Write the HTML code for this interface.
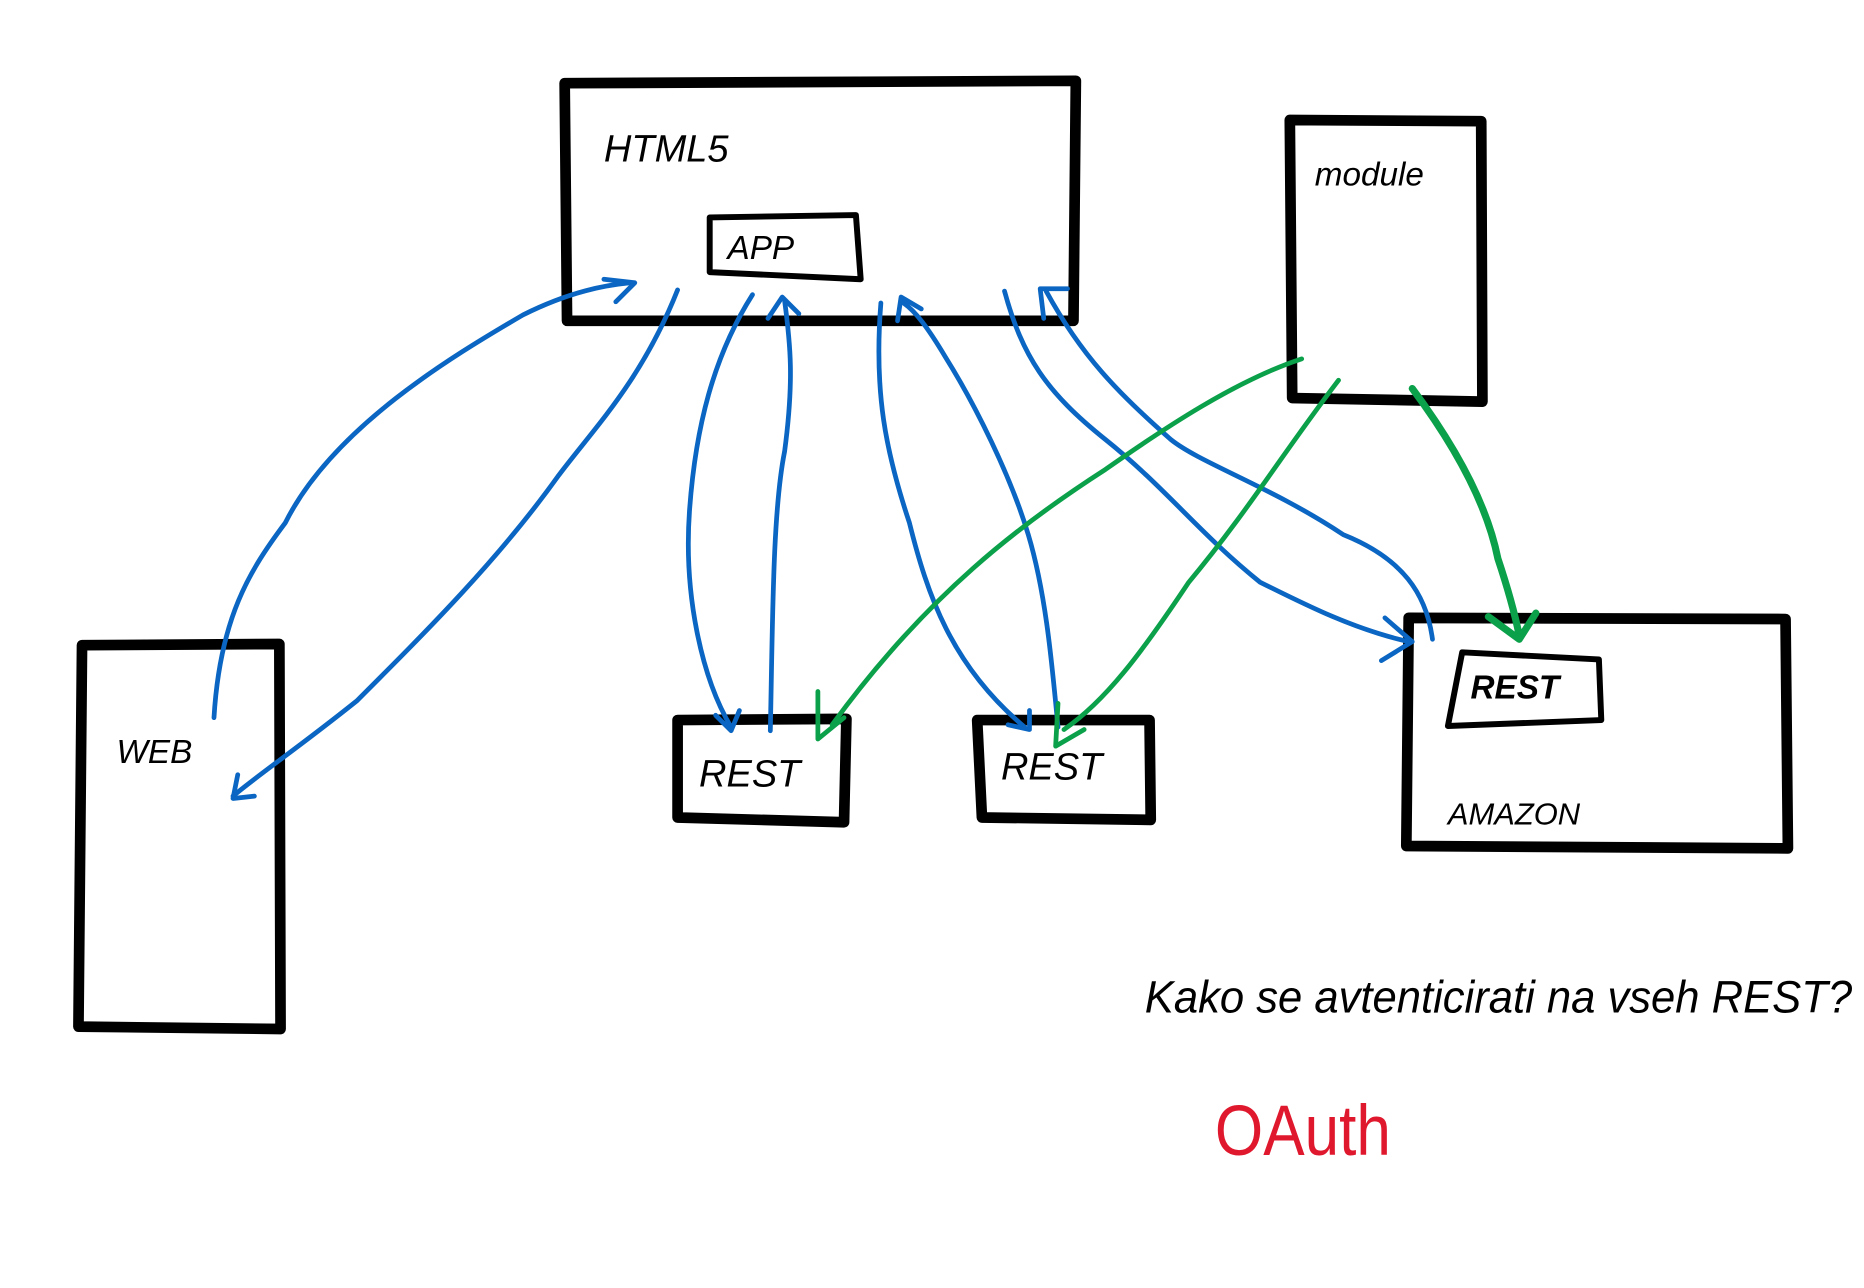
<!DOCTYPE html>
<html><head><meta charset="utf-8"><style>
html,body{margin:0;padding:0;background:#fff;}
svg{display:block;}
text{font-family:"Liberation Sans",sans-serif;}
</style></head><body>
<svg width="1864" height="1288" viewBox="0 0 1568 1084" preserveAspectRatio="none" xmlns="http://www.w3.org/2000/svg">
<g fill="none" stroke="#000" stroke-linecap="round" stroke-linejoin="round">
<path d="M475 70 L905 68 L903 270 L477 270 Z" stroke-width="9"/>
<path d="M597 183 L720 181 L724 235 L597 229 Z" stroke-width="5"/>
<path d="M1085 101 L1246 102 L1247 338 L1087 335 Z" stroke-width="9"/>
<path d="M69 543 L235 542 L236 866 L66 864 Z" stroke-width="9"/>
<path d="M570 606 L712 605 L710 692 L570 688 Z" stroke-width="9"/>
<path d="M822 606 L967 606 L968 690 L826 688 Z" stroke-width="9"/>
<path d="M1185 520 L1502 521 L1504 714 L1183 712 Z" stroke-width="9"/>
<path d="M1230 549 L1345 555 L1347 606 L1218 611 Z" stroke-width="5"/>
</g>
<g fill="none" stroke="#0a66c2" stroke-width="4" stroke-linecap="round" stroke-linejoin="round">
<path d="M180 604 C185 520 210 480 240 440 C280 360 380 300 440 265 C480 245 510 240 530 238"/>
<path d="M508 235 L534 238 L518 254"/>
<path d="M570 244 C540 320 500 360 470 400 C420 470 360 530 300 590 C250 630 220 650 196 670"/>
<path d="M200 652 L196 672 L214 670"/>
<path d="M633 248 C600 300 585 360 580 430 C575 500 590 570 615 612"/>
<path d="M602 602 L615 615 L622 598"/>
<path d="M648 615 C650 520 650 430 660 380 C668 320 665 290 660 253"/>
<path d="M646 268 L658 250 L672 264"/>
<path d="M741 255 C735 330 745 380 765 440 C780 500 800 560 862 612"/>
<path d="M848 610 L866 614 L866 598"/>
<path d="M890 612 C885 560 880 500 865 450 C850 400 820 340 795 300 C780 275 770 262 760 255"/>
<path d="M755 270 L758 250 L775 260"/>
<path d="M845 245 C860 300 880 330 930 370 C980 410 1010 450 1060 490 C1100 510 1140 530 1185 540"/>
<path d="M1165 520 L1188 540 L1162 556"/>
<path d="M1205 538 C1200 500 1180 470 1130 450 C1070 410 1010 390 985 370 C940 330 910 300 880 245"/>
<path d="M878 268 L875 243 L898 243"/>
</g>
<g fill="none" stroke="#0ba04a" stroke-linecap="round" stroke-linejoin="round">
<path d="M1095 302 C1040 320 980 360 930 395 C860 440 780 500 700 610" stroke-width="4"/>
<path d="M688 582 L688 622 L710 604" stroke-width="4"/>
<path d="M1126 320 C1080 380 1050 430 1000 490 C960 550 930 590 895 614" stroke-width="4"/>
<path d="M890 592 L888 628 L912 614" stroke-width="4"/>
<path d="M1188 327 C1220 370 1250 420 1260 470 C1270 500 1275 520 1278 535" stroke-width="6"/>
<path d="M1252 519 L1278 538 L1292 516" stroke-width="6"/>
</g>
<g fill="#000" font-style="italic">
<text x="508" y="136" font-size="32">HTML5</text>
<text x="612" y="218" font-size="28">APP</text>
<text x="1106" y="156" font-size="28">module</text>
<text x="98" y="642" font-size="28">WEB</text>
<text x="588" y="662" font-size="32">REST</text>
<text x="842" y="656" font-size="32">REST</text>
<text x="1237" y="588" font-size="28" font-weight="bold">REST</text>
<text x="1218" y="694" font-size="26">AMAZON</text>
<text x="963" y="852" font-size="38" textLength="595" lengthAdjust="spacingAndGlyphs">Kako se avtenticirati na vseh REST?</text>
</g>
<text x="1022" y="972" font-size="60" fill="#e0182d" textLength="148" lengthAdjust="spacingAndGlyphs">OAuth</text>
</svg>
</body></html>
